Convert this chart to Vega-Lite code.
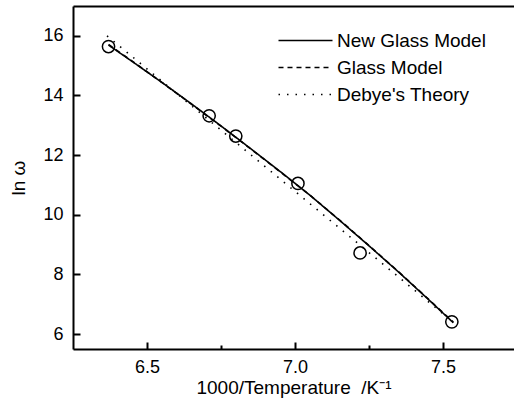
{
  "$schema": "https://vega.github.io/schema/vega-lite/v6.json",
  "width": 441,
  "height": 343,
  "autosize": {"type": "none"},
  "padding": {"left": 73, "top": 6, "right": 0, "bottom": 56},
  "background": "white",
  "config": {
    "view": {"stroke": null},
    "font": "Liberation Sans",
    "axis": {
      "domainColor": "black", "domainWidth": 2, "tickColor": "black", "tickWidth": 2,
      "labelFont": "Liberation Sans", "labelFontSize": 18, "labelColor": "black",
      "titleFont": "Liberation Sans", "titleFontSize": 19, "titleFontWeight": "normal", "titleColor": "black",
      "grid": false
    },
    "legend": {
      "labelFont": "Liberation Sans", "labelFontSize": 19, "labelColor": "black"
    }
  },
  "datasets": {
    "curves": [
      {"series": "New Glass Model", "x": 6.37, "y": 15.69},
      {"series": "New Glass Model", "x": 6.45, "y": 15.14},
      {"series": "New Glass Model", "x": 6.55, "y": 14.44},
      {"series": "New Glass Model", "x": 6.65, "y": 13.72},
      {"series": "New Glass Model", "x": 6.75, "y": 12.98},
      {"series": "New Glass Model", "x": 6.85, "y": 12.22},
      {"series": "New Glass Model", "x": 6.95, "y": 11.45},
      {"series": "New Glass Model", "x": 7.05, "y": 10.66},
      {"series": "New Glass Model", "x": 7.15, "y": 9.82},
      {"series": "New Glass Model", "x": 7.25, "y": 8.96},
      {"series": "New Glass Model", "x": 7.35, "y": 8.08},
      {"series": "New Glass Model", "x": 7.45, "y": 7.17},
      {"series": "New Glass Model", "x": 7.535, "y": 6.38},
      {"series": "Glass Model", "x": 6.37, "y": 15.71},
      {"series": "Glass Model", "x": 6.45, "y": 15.15},
      {"series": "Glass Model", "x": 6.55, "y": 14.44},
      {"series": "Glass Model", "x": 6.65, "y": 13.71},
      {"series": "Glass Model", "x": 6.75, "y": 12.97},
      {"series": "Glass Model", "x": 6.85, "y": 12.21},
      {"series": "Glass Model", "x": 6.95, "y": 11.44},
      {"series": "Glass Model", "x": 7.05, "y": 10.66},
      {"series": "Glass Model", "x": 7.15, "y": 9.83},
      {"series": "Glass Model", "x": 7.25, "y": 8.97},
      {"series": "Glass Model", "x": 7.35, "y": 8.09},
      {"series": "Glass Model", "x": 7.45, "y": 7.18},
      {"series": "Glass Model", "x": 7.535, "y": 6.40},
      {"series": "Debye's Theory", "x": 6.365, "y": 16.0},
      {"series": "Debye's Theory", "x": 7.51, "y": 6.6}
    ],
    "points": [
      {"x": 6.37, "y": 15.64},
      {"x": 6.71, "y": 13.32},
      {"x": 6.80, "y": 12.64},
      {"x": 7.01, "y": 11.05},
      {"x": 7.22, "y": 8.72},
      {"x": 7.53, "y": 6.41}
    ]
  },
  "layer": [
    {
      "data": {"name": "curves"},
      "mark": {"type": "line", "color": "black", "strokeWidth": 1.6},
      "encoding": {
        "x": {
          "field": "x", "type": "quantitative",
          "scale": {"domain": [6.25, 7.74], "nice": false, "zero": false},
          "axis": {
            "title": "1000/Temperature \u00a0/K⁻¹",
            "values": [6.5, 6.75, 7.0, 7.25, 7.5],
            "labelExpr": "round(datum.value*4)%2==0 ? format(datum.value, '.1f') : ''",
            "tickSize": {"condition": {"test": "round(datum.value*4)%2==0", "value": -7}, "value": -4},
            "labelPadding": 16,
            "titlePadding": 2
          }
        },
        "y": {
          "field": "y", "type": "quantitative",
          "scale": {"domain": [5.5, 17], "nice": false, "zero": false},
          "axis": {
            "title": "ln ω",
            "values": [6, 7, 8, 9, 10, 11, 12, 13, 14, 15, 16],
            "labelExpr": "datum.value%2==0 ? format(datum.value, 'd') : ''",
            "tickSize": {"condition": {"test": "datum.value%2==0", "value": -7}, "value": -4},
            "labelPadding": 17,
            "titlePadding": 14
          }
        },
        "strokeDash": {
          "field": "series", "type": "nominal",
          "scale": {
            "domain": ["New Glass Model", "Glass Model", "Debye's Theory"],
            "range": [[1, 0], [5, 4], [1.5, 7]]
          },
          "legend": {
            "title": null,
            "orient": "none",
            "legendX": 218,
            "legendY": 20,
            "symbolType": "M-2,0H2",
            "symbolSize": 729,
            "symbolStrokeColor": "black",
            "symbolStrokeWidth": 1.6,
            "labelOffset": 17,
            "rowPadding": 2,
            "padding": 0
          }
        }
      }
    },
    {
      "data": {"name": "points"},
      "mark": {"type": "point", "shape": "circle", "filled": false, "color": "black", "size": 150, "strokeWidth": 1.5, "opacity": 1},
      "encoding": {
        "x": {"field": "x", "type": "quantitative", "axis": {"orient": "top", "labels": false, "ticks": false, "title": null, "domain": true}},
        "y": {"field": "y", "type": "quantitative"}
      }
    }
  ],
  "resolve": {"axis": {"x": "independent"}}
}
